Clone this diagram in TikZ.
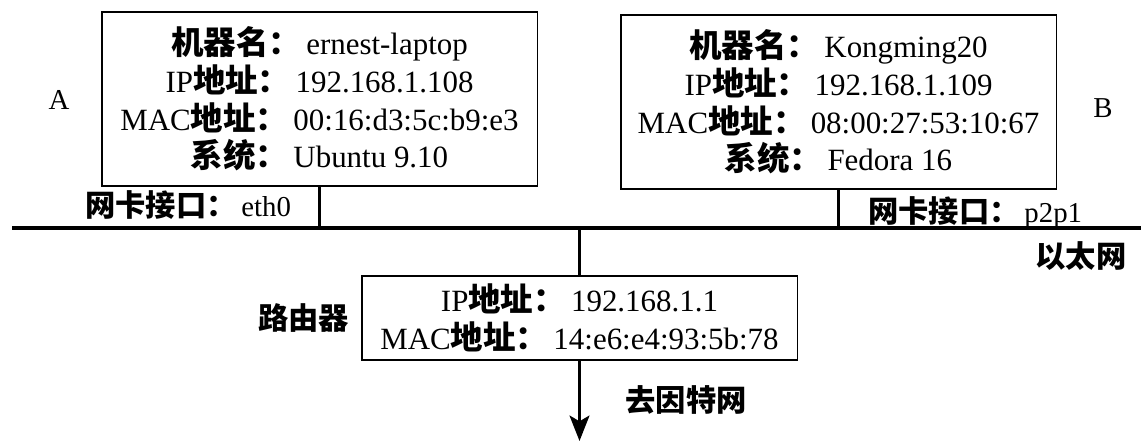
\documentclass[tikz,border=0pt]{standalone}
\usepackage{fontspec}
\setmainfont{Liberation Serif}
\newfontfamily\cjk[Scale=1.05]{Noto Sans CJK SC}
\usetikzlibrary{arrows.meta,positioning}

\newcommand\zh[1]{{\cjk\bfseries #1}\,}

\begin{document}
\begin{tikzpicture}
      [
        x = 0.025cm, y = -0.025cm,
        HostBox/.style={draw, line width=0.8pt, align=center, inner sep=0pt,
          minimum width=10.875cm, minimum height=4.35cm,
          font=\fontsize{22}{26.8}\selectfont},
        RouterBox/.style={HostBox, minimum height=2.1cm},
        Wire/.style={line width=2.8pt},
        Tag/.style={inner sep=0pt, font=\fontsize{20.5}{24}\selectfont},
      ]
      \useasboundingbox (0,0) rectangle (1141,443);

      % the two hosts
      \node [HostBox] (hostA) at (319.5,99)
        {\zh{机器名：}ernest-laptop\\ IP\zh{地址：}192.168.1.108\\
         MAC\zh{地址：}00:16:d3:5c:b9:e3\\ \zh{系统：}Ubuntu 9.10};
      \node [HostBox] (hostB) at (838.5,102)
        {\zh{机器名：}Kongming20\\ IP\zh{地址：}192.168.1.109\\
         MAC\zh{地址：}08:00:27:53:10:67\\ \zh{系统：}Fedora 16};
      \node [Tag] (nameA) at (59,100) {A};
      \node [Tag] (nameB) at (1103,108) {B};

      % the router
      \node [RouterBox] (router) at (579.5,318)
        {IP\zh{地址：}192.168.1.1\\ MAC\zh{地址：}14:e6:e4:93:5b:78};
      \node [Tag, left=0.3cm of router] (routerName) {{\cjk\bfseries 路由器}};

      % ethernet
      \coordinate (lanW) at (12,228);
      \coordinate (lanE) at (1141,228);
      \coordinate (inet) at (579.5,441);
      \draw [Wire] (lanW) -- (lanE);
      \draw [Wire] (hostA.south) -- (hostA.south |- lanW);
      \draw [Wire] (hostB.south) -- (hostB.south |- lanW);
      \draw [Wire] (router.north |- lanW) -- (router.north);
      \draw [Wire, -{Stealth[length=18pt, width=14pt, inset=4pt]}] (router.south) -- (inet);

      \node [Tag, anchor=base west] (nicA) at (85,216) {\zh{网卡接口：}eth0};
      \node [Tag, anchor=base west] (nicB) at (868,222) {\zh{网卡接口：}p2p1};
      \node [Tag] (lanName) at (1081,256) {{\cjk\bfseries 以太网}};
      \node [Tag] (inetName) at (686,400) {{\cjk\bfseries 去因特网}};
    \end{tikzpicture}
\end{document}
